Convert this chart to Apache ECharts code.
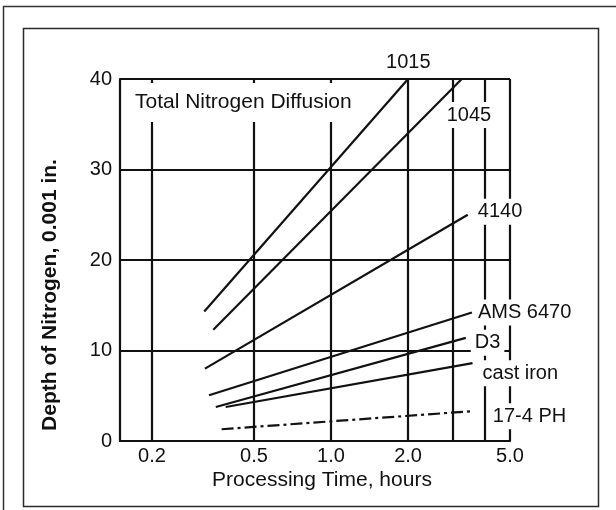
<!DOCTYPE html>
<html>
<head>
<meta charset="utf-8">
<script src="https://cdn.jsdelivr.net/npm/echarts@6/dist/echarts.min.js"></script>
<style>
  html, body { margin: 0; padding: 0; background: #fff; }
  #chartNitrogen { width: 616px; height: 510px; }
</style>
</head>
<body>
<div id="chartNitrogen"></div>
<script>
// steel grades, one straight line each (start / end of the drawn segment)
const gradeNames = ["1015", "1045", "4140", "AMS 6470", "D3", "cast iron", "17-4 PH"];
const startHours = [0.32, 0.347, 0.322, 0.334, 0.355, 0.388, 0.374];
const startDepth = [14.3, 12.3, 8.0, 5.05, 3.76, 3.76, 1.3];
const endHours = [2.0, 3.24, 3.42, 3.55, 3.36, 3.57, 3.58];
const endDepth = [40, 40, 25.0, 14.2, 11.4, 8.6, 3.3];

// vertical grid lines on the hours axis and their tick labels
const gridHours = [0.2, 0.5, 1.0, 2.0, 3.0, 4.0, 5.0];
const hourLabels = ["0.2", "0.5", "1.0", "2.0", "", "", "5.0"];

// where each grade name sits, relative to the end of its line (px)
const labelOffsets = [[-26, -17], [-19, 36], [6, -3], [2, 0], [5, 5], [6, 10], [16, 5]];

const ink = "#111";

const chart = echarts.init(document.getElementById("chartNitrogen"));

const series = gradeNames.map((name, i) => ({
  name: name,
  type: "line",
  z: 10,
  showSymbol: false,
  silent: true,
  lineStyle: {
    color: ink,
    width: 2.2,
    type: name === "17-4 PH" ? [12, 4, 3, 4] : "solid"
  },
  endLabel: {
    show: true,
    formatter: name,
    distance: 0,
    offset: labelOffsets[i],
    fontSize: 20,
    color: ink,
    backgroundColor: "#fff",
    padding: [3, 4]
  },
  data: [[startHours[i], startDepth[i]], [endHours[i], endDepth[i]]]
}));

// grid lines along the hours axis (log axis, drawn through its own scale)
series[0].markLine = {
  z: 3,
  silent: true,
  symbol: "none",
  animation: false,
  lineStyle: {color: ink, width: 2.2, type: "solid"},
  label: {position: "start", distance: 5, fontSize: 20, color: ink},
  data: gridHours.map((h, i) => ({
    xAxis: h,
    label: {show: hourLabels[i] !== "", formatter: hourLabels[i]}
  }))
};

const options = {
  animation: false,
  textStyle: {fontFamily: "Liberation Sans, Arial, sans-serif"},
  title: {
    text: "Total Nitrogen Diffusion",
    left: 127,
    top: 83,
    padding: [9, 8],
    backgroundColor: "#fff",
    textStyle: {fontSize: 21, fontWeight: "normal", color: ink}
  },
  grid: {
    left: 120,
    right: 106,
    top: 79,
    bottom: 69,
    containLabel: false
  },
  xAxis: {
    type: "log",
    logBase: 10,
    min: 0.15,
    max: 5,
    name: "Processing Time, hours",
    nameLocation: "middle",
    nameGap: 29,
    nameTextStyle: {fontSize: 21, color: ink, padding: [0, 0, 0, 14]},
    axisLine: {show: true, lineStyle: {color: ink, width: 2.2}},
    axisTick: {show: false},
    axisLabel: {show: false},
    splitLine: {show: false},
    minorSplitLine: {show: false}
  },
  yAxis: {
    type: "value",
    min: 0,
    max: 40,
    interval: 10,
    name: "Depth of Nitrogen, 0.001 in.",
    nameLocation: "middle",
    nameGap: 59,
    nameTextStyle: {fontSize: 21, fontWeight: "bold", color: ink, padding: [0, 70, 0, 0]},
    axisLine: {show: true, lineStyle: {color: ink, width: 2.2}},
    axisTick: {show: false},
    axisLabel: {fontSize: 20, color: ink, margin: 8},
    splitLine: {show: true, lineStyle: {color: ink, width: 2.2}}
  },
  graphic: [
    {
      type: "rect",
      shape: {x: 3.5, y: 6.5, width: 700, height: 600},
      style: {fill: null, stroke: "#333", lineWidth: 1.5}
    },
    {
      type: "rect",
      shape: {x: 23.5, y: 28.5, width: 575, height: 478},
      style: {fill: null, stroke: "#2a2a2a", lineWidth: 1.5}
    }
  ],
  series: series
};

chart.setOption(options, true);
</script>
</body>
</html>
